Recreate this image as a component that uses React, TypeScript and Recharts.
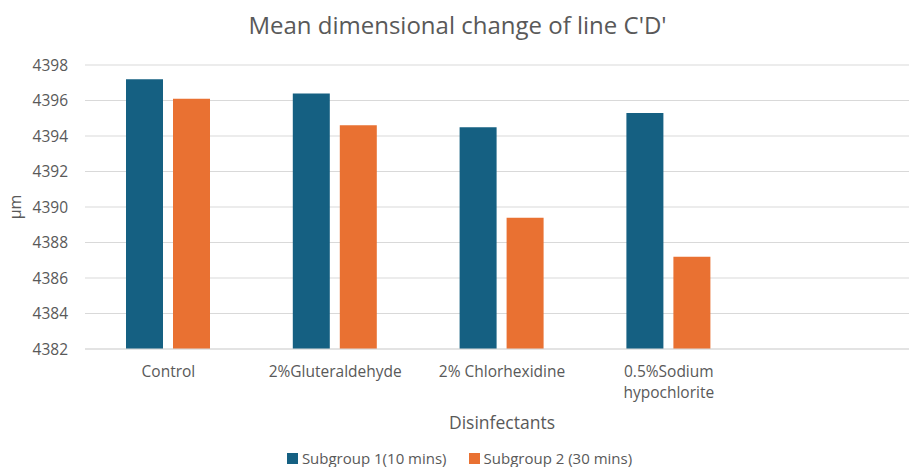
import { BarChart, Bar, XAxis, YAxis, CartesianGrid, Legend } from 'recharts'

const categories = ['Control', '2%Gluteraldehyde', '2% Chlorhexidine', '0.5%Sodium\nhypochlorite', '']
const subgroup1 = [4397.2, 4396.4, 4394.5, 4395.3, null]
const subgroup2 = [4396.1, 4394.6, 4389.4, 4387.2, null]
const yTicks = [4382, 4384, 4386, 4388, 4390, 4392, 4394, 4396, 4398]

const data = categories.map((name, i) => ({
  name,
  s1: subgroup1[i],
  s2: subgroup2[i],
}))

const FONT = '"Open Sans", sans-serif'
const TEXT = '#595959'
const BLUE = '#156082'
const ORANGE = '#E97132'

function CategoryTick({ x, y, payload }: any) {
  const lines = String(payload.value).split('\n')
  return (
    <text x={x} y={y} textAnchor="middle" fill={TEXT} fontSize={15.5} fontFamily={FONT}>
      {lines.map((line, i) => (
        <tspan key={i} x={x} dy={i === 0 ? 15 : 21}>
          {line}
        </tspan>
      ))}
    </text>
  )
}

function LegendContent({ payload }: any) {
  return (
    <div style={{ display: 'flex', justifyContent: 'center', gap: 22, fontFamily: FONT, fontSize: 15, lineHeight: '18px', color: TEXT }}>
      {payload.map((p: any) => (
        <div key={p.value} style={{ display: 'flex', alignItems: 'center', gap: 4 }}>
          <div style={{ width: 11, height: 11, background: p.color }} />
          <span>{p.value}</span>
        </div>
      ))}
    </div>
  )
}

export default function App() {
  return (
    <div style={{ position: 'absolute', left: 0, top: 0, width: 909, height: 467, overflow: 'hidden', background: '#fff' }}>
      <div
        style={{
          position: 'absolute',
          left: 0,
          top: 8,
          width: 915,
          textAlign: 'center',
          fontFamily: FONT,
          fontSize: 24,
          color: TEXT,
        }}
      >
        Mean dimensional change of line C'D'
      </div>
      <BarChart
        width={920}
        height={467}
        data={data}
        margin={{ top: 65, right: 1, bottom: 10, left: 0 }}
        barSize={37}
        barGap={10}
      >
        <CartesianGrid vertical={false} stroke="#d9d9d9" strokeWidth={1.2} />
        <XAxis
          dataKey="name"
          tick={<CategoryTick />}
          tickLine={false}
          axisLine={{ stroke: '#d9d9d9', strokeWidth: 1.2 }}
          interval={0}
          height={90}
          tickSize={0}
          tickMargin={13}
          label={{ value: 'Disinfectants', position: 'insideBottom', offset: 10, fill: TEXT, fontSize: 17.5, fontFamily: FONT }}
        />
        <YAxis
          domain={[4382, 4398]}
          ticks={yTicks}
          width={85}
          axisLine={false}
          tickLine={false}
          tickSize={0}
          tickMargin={17}
          tick={{ fill: TEXT, fontSize: 15.5, fontFamily: FONT }}
          label={{
            value: 'µm',
            angle: -90,
            position: 'insideLeft',
            offset: 15,
            fill: TEXT,
            fontSize: 16,
            fontFamily: FONT,
            style: { textAnchor: 'middle' },
          }}
        />
        <Legend verticalAlign="bottom" content={<LegendContent />} wrapperStyle={{ bottom: 0 }} />
        <Bar dataKey="s1" name="Subgroup 1(10 mins)" fill={BLUE} isAnimationActive={false} />
        <Bar dataKey="s2" name="Subgroup 2 (30 mins)" fill={ORANGE} isAnimationActive={false} />
      </BarChart>
    </div>
  )
}
